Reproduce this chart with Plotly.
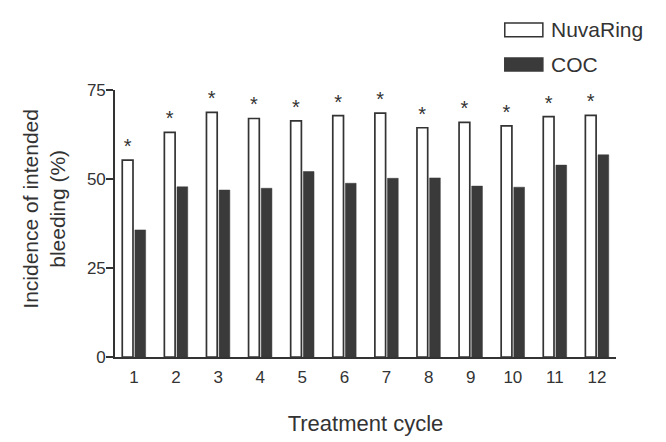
import plotly.graph_objects as go

cycles = [1, 2, 3, 4, 5, 6, 7, 8, 9, 10, 11, 12]
nuvaring = [55.3, 63.1, 68.7, 67.0, 66.3, 67.8, 68.5, 64.4, 65.9, 64.9, 67.5, 67.9]
coc = [35.7, 47.8, 46.9, 47.4, 52.1, 48.8, 50.2, 50.3, 48.0, 47.7, 53.9, 56.8]
significance = ["*"] * 12
y_ticks = [0, 25, 50, 75]
series_names = ["NuvaRing", "COC"]
y_title = "Incidence of intended<br>bleeding (%)"
x_title = "Treatment cycle"

INK = "#333333"
FONT = "Liberation Sans, Arial, sans-serif"

fig = go.Figure()
fig.add_trace(go.Bar(
    x=cycles, y=nuvaring, name=series_names[0],
    marker=dict(color="white", line=dict(color=INK, width=1.7)),
    text=significance, textposition="outside", cliponaxis=False,
    textfont=dict(size=20, color=INK, family=FONT),
    showlegend=False,
))
fig.add_trace(go.Bar(
    x=cycles, y=coc, name=series_names[1],
    marker=dict(color="#3a3a3a", line=dict(color="#3a3a3a", width=0.5)),
    showlegend=False,
))

# Custom legend (wide rectangular swatches as in the reference)
legend_items = [
    (series_names[0], "white", 1.199, 1.251, 1.225),
    (series_names[1], "#3a3a3a", 1.071, 1.120, 1.097),
]
shapes = []
annotations = []
for name, fill, y0, y1, ym in legend_items:
    shapes.append(dict(type="rect", xref="paper", yref="paper",
                       x0=0.778, x1=0.854, y0=y0, y1=y1,
                       fillcolor=fill, line=dict(color=INK if fill == "white" else fill, width=1.5)))
    annotations.append(dict(xref="paper", yref="paper", x=0.866, y=ym,
                            xanchor="left", yanchor="middle", text=name,
                            showarrow=False, font=dict(size=21, color=INK, family=FONT)))

# y-axis title as rotated annotation (sits slightly above the plot centre)
annotations.append(dict(xref="paper", yref="paper", x=-0.142, y=0.555,
                        xanchor="center", yanchor="middle", textangle=-90,
                        text=y_title, showarrow=False,
                        font=dict(size=21, color=INK, family=FONT)))

# The page body adds an 8px offset; size the figure so it fits the 666x442 window.
fig.update_layout(
    width=658, height=434,
    margin=dict(l=107, r=50, t=82, b=85),
    paper_bgcolor="white", plot_bgcolor="white",
    barmode="group", bargap=0.4, bargroupgap=0.15,
    font=dict(family=FONT, color=INK),
    shapes=shapes, annotations=annotations,
    xaxis=dict(
        range=[0.55, 12.45], tickvals=cycles, ticktext=[str(c) for c in cycles],
        showline=True, linecolor=INK, linewidth=2, ticks="", showgrid=False,
        zeroline=False, tickfont=dict(size=17, color=INK), automargin=False,
        ticklabelstandoff=4,
        title=dict(text=x_title, font=dict(size=22, color=INK), standoff=29),
    ),
    yaxis=dict(
        range=[0, 75], tickvals=y_ticks, showline=True, linecolor=INK, linewidth=1.6,
        ticks="outside", ticklen=7, tickwidth=1.5, tickcolor=INK, showgrid=False,
        zeroline=False, tickfont=dict(size=17, color=INK), automargin=False,
        ticklabelstandoff=-3,
    ),
)

fig.write_html("out.html")
